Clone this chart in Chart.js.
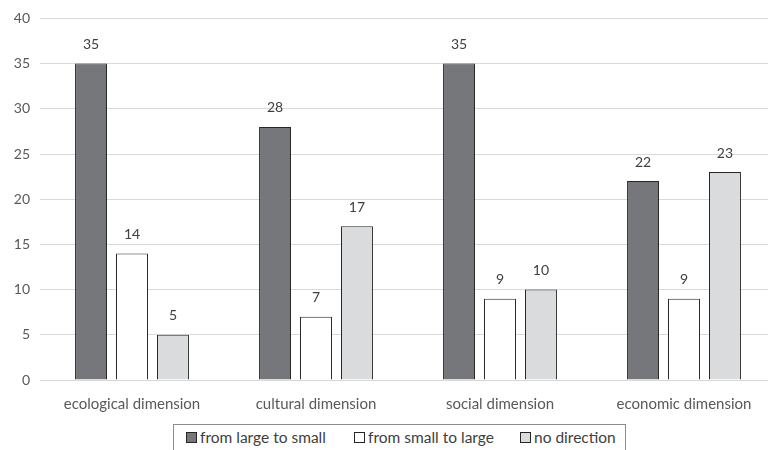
<!DOCTYPE html>
<html><head><meta charset="utf-8">
<script src="https://cdn.jsdelivr.net/npm/chart.js@4/dist/chart.umd.min.js"></script>
<style>
html,body{margin:0;padding:0;background:#fff;overflow:hidden;width:768px;height:450px;}
#wrap{position:absolute;left:0;top:0;width:776px;height:420px;}
#legend{position:absolute;left:173px;top:424px;width:453px;height:34px;border:1px solid #8c8c8c;box-sizing:border-box;font-family:"Lato","Liberation Sans",sans-serif;font-size:15.5px;color:#404040;}
#legend .it{position:absolute;top:3px;white-space:nowrap;}
#legend .sw{display:inline-block;width:9px;height:9px;border:1px solid #262626;margin-right:3px;vertical-align:0px;}
</style></head>
<body>
<div id="wrap"><canvas id="c"></canvas></div>
<div id="legend"></div>
<script>
const categories = ["ecological dimension","cultural dimension","social dimension","economic dimension"];
const seriesNames = ["from large to small","from small to large","no direction"];
const largeToSmall = [35,28,35,22];
const smallToLarge = [14,7,9,9];
const noDirection = [5,17,10,23];
const yTicks = [0,5,10,15,20,25,30,35,40];
const colors = ["#76777b","#ffffff","#dadbdc"];

const labelPlugin = {
  id:'vals',
  afterDatasetsDraw(chart){
    const ctx = chart.ctx;
    ctx.save();
    ctx.font = '14px Lato, "Liberation Sans", sans-serif';
    ctx.fillStyle = '#404040';
    ctx.textAlign = 'center';
    ctx.textBaseline = 'middle';
    chart.data.datasets.forEach((ds,i)=>{
      chart.getDatasetMeta(i).data.forEach((bar,j)=>{
        ctx.fillText(String(ds.data[j]), bar.x, bar.y - 19);
      });
    });
    ctx.restore();
  }
};

const data = [largeToSmall, smallToLarge, noDirection];
new Chart(document.getElementById('c'), {
  type:'bar',
  data:{
    labels:categories,
    datasets: seriesNames.map((n,i)=>({
      label:n, data:data[i], backgroundColor:colors[i], borderColor:'#262626', borderWidth:1,
      categoryPercentage:0.668, barPercentage:0.78
    }))
  },
  options:{
    responsive:true, maintainAspectRatio:false, animation:false,
    layout:{padding:{top:18,right:0,left:0,bottom:0}},
    plugins:{legend:{display:false}, tooltip:{enabled:false}},
    scales:{
      x:{
        grid:{display:false, drawTicks:false},
        border:{display:true,color:'#d9d9d9',width:1},
        ticks:{color:'#595959', padding:15, font:{size:15,family:'Lato, "Liberation Sans", sans-serif'}},
        afterFit(s){ s.height = 40; }
      },
      y:{
        min:0,max:40,
        afterBuildTicks(s){ s.ticks = yTicks.map(v=>({value:v})); },
        grid:{color:'#d9d9d9', lineWidth:1, drawTicks:false},
        border:{display:false},
        ticks:{color:'#595959', padding:10, font:{size:14,family:'Lato, "Liberation Sans", sans-serif'}},
        afterFit(s){ s.width = 40; }
      }
    }
  },
  plugins:[labelPlugin]
});

const lg = document.getElementById('legend');
const lefts = [12,180,346];
seriesNames.forEach((n,i)=>{
  const d = document.createElement('span');
  d.className='it'; d.style.left = lefts[i]+'px';
  d.innerHTML = '<span class="sw" style="background:'+colors[i]+'"></span>'+n;
  lg.appendChild(d);
});
</script>
</body></html>
